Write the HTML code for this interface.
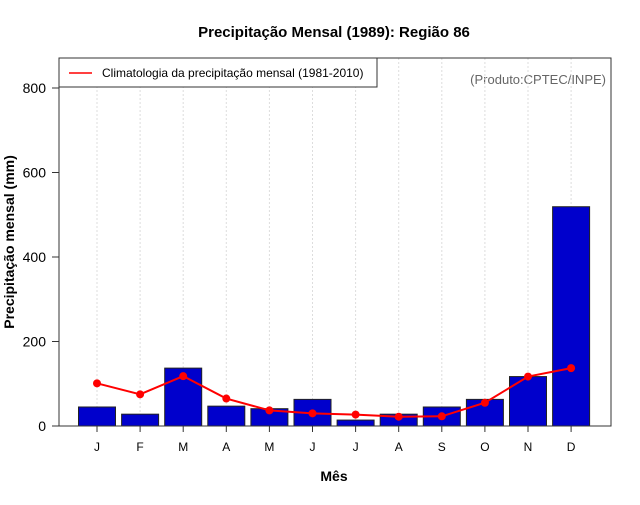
<!DOCTYPE html>
<html><head><meta charset="utf-8"><style>
body{margin:0;background:#fff}
svg{font-family:"Liberation Sans",sans-serif}
</style></head><body>
<svg id="c" width="640" height="500" xmlns="http://www.w3.org/2000/svg">
<text x="334" y="37" text-anchor="middle" font-size="15" font-weight="bold">Precipitação Mensal (1989): Região 86</text>
<text x="334" y="481" text-anchor="middle" font-size="14" font-weight="bold">Mês</text>
<text transform="translate(14,242) rotate(-90)" text-anchor="middle" font-size="14" font-weight="bold">Precipitação mensal (mm)</text>
<text x="606" y="84" text-anchor="end" font-size="13" fill="#666">(Produto:CPTEC/INPE)</text>
<g id="grid"></g><g id="bars"></g><g id="line"></g><g id="axes"></g>
<rect x="59" y="58" width="552" height="368" fill="none" stroke="#333" stroke-width="1"/>
<g>
<rect x="59" y="58" width="318" height="29" fill="#fff" stroke="#333"/>
<line x1="69" y1="73" x2="92" y2="73" stroke="red" stroke-width="1.5"/>
<text x="102" y="77" font-size="12">Climatologia da precipitação mensal (1981-2010)</text>
</g>
</svg>
<script>
const months=["J","F","M","A","M","J","J","A","S","O","N","D"];
const precip=[45,28,137,47,41,63,14,28,45,63,117,519];
const clim=[101,75,118,65,37,30,27,22,23,55,117,137];
const yTicks=[0,200,400,600,800];
const NS="http://www.w3.org/2000/svg";
const xS=i=>97+i*43.1;
const yS=v=>426-v*0.4225;
function mk(t,a,p){const e=document.createElementNS(NS,t);for(const k in a)e.setAttribute(k,a[k]);p.appendChild(e);return e;}
const g=document.getElementById('grid'),b=document.getElementById('bars'),l=document.getElementById('line'),ax=document.getElementById('axes');
months.forEach((m,i)=>{
 const gl=mk('line',{x1:xS(i),x2:xS(i),y1:58,y2:426,stroke:'#ddd','stroke-dasharray':'2,2'},g);
 
 
 const r=mk('rect',{x:xS(i)-18.5,y:yS(precip[i]),width:37,height:426-yS(precip[i]),fill:'#0000cc',stroke:'#222','stroke-width':1},b);
 
 
 const tk=mk('line',{x1:xS(i),x2:xS(i),y1:426,y2:432,stroke:'#333'},ax);
 
 
 const tx=mk('text',{x:xS(i),y:451,'text-anchor':'middle','font-size':12},ax);
 tx.textContent=m;
 
 
});
const pl=mk('polyline',{points:clim.map((v,i)=>xS(i)+','+yS(v)).join(' '),fill:'none',stroke:'red','stroke-width':2},l);


clim.forEach((v,i)=>{
 const c=mk('circle',{cx:xS(i),cy:yS(v),r:4,fill:'red'},l);
 
 
});
yTicks.forEach(v=>{
 const tk=mk('line',{x1:52,x2:59,y1:yS(v),y2:yS(v),stroke:'#333'},ax);
 
 
 const tx=mk('text',{x:46,y:yS(v)+5,'text-anchor':'end','font-size':14},ax);
 tx.textContent=v;
 
 
});
</script>
</body></html>
